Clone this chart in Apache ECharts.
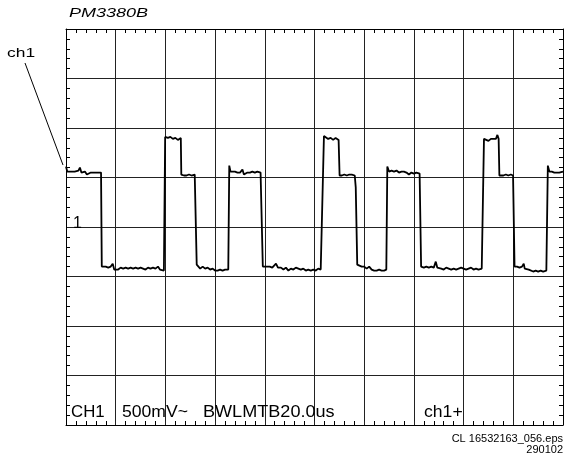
<!DOCTYPE html>
<html>
<head>
<meta charset="utf-8">
<script src="https://cdn.jsdelivr.net/npm/echarts@6/dist/echarts.min.js"></script>
<style>html,body{margin:0;padding:0;background:#fff}#c{width:565px;height:459px}</style>
</head>
<body>
<div id="c"></div>
<script>
// time axis: 20 us/div, 10 divisions; voltage axis: 500 mV/div, 8 divisions
const timeRange = [0, 200];
const timeStep = 20;
const voltRange = [-2, 2];
const voltStep = 0.5;

// trace: [time (us), voltage (V)]
const tracePoints = [
  [0,0.61],[0.5,0.56],[1.2,0.55],[2,0.56],[2.8,0.54],[3.5,0.56],[4.2,0.55],[5,0.57],[5.6,0.60],[6.2,0.55],[7,0.53],[7.6,0.56],[8.4,0.53],[9.2,0.55],[10,0.55],[11,0.55],[12,0.55],[13,0.55],[14.1,0.55],
  [14.4,-0.40],
  [15,-0.41],[16,-0.40],[17,-0.41],[18,-0.40],[18.8,-0.37],[19.4,-0.43],[20.2,-0.42],[21,-0.43],[22,-0.41],[23,-0.42],[24,-0.41],[25,-0.42],[26,-0.41],[27,-0.42],[28,-0.41],[29,-0.42],[30,-0.41],[31,-0.42],[32,-0.43],[33,-0.41],[34,-0.42],[35,-0.41],[36,-0.42],[37,-0.40],[37.8,-0.43],[38.5,-0.42],[39.4,-0.44],
  [39.9,0.91],
  [41,0.90],[42,0.91],[43,0.89],[44,0.90],[45,0.88],[46.2,0.90],
  [46.4,0.53],
  [47.5,0.52],[48.5,0.52],[49.5,0.53],[50.5,0.52],[51.2,0.54],[51.8,0.53],
  [52.6,-0.38],
  [53.2,-0.40],[54,-0.42],[55,-0.40],[56,-0.42],[57,-0.41],[58,-0.43],[59,-0.42],[60,-0.44],[61,-0.44],[62,-0.43],[63,-0.44],[64,-0.43],[65.3,-0.43],
  [65.7,0.62],
  [66.2,0.56],[67,0.55],[68,0.56],[69,0.55],[70,0.55],[71,0.58],[71.6,0.53],[72.4,0.55],[73,0.55],[74,0.55],[75,0.56],[76,0.55],[77,0.56],[78.3,0.55],
  [79.2,-0.40],
  [80,-0.41],[81,-0.40],[82,-0.40],[83,-0.41],[84.5,-0.37],[85.3,-0.41],[86.5,-0.41],[87.5,-0.43],[88.5,-0.41],[89.5,-0.44],[90.5,-0.42],[91.5,-0.43],[92.5,-0.41],[93.5,-0.42],[94.5,-0.43],[95.5,-0.42],[96.5,-0.44],[97.5,-0.43],[98.5,-0.44],[99.5,-0.43],[100.5,-0.44],[101.5,-0.42],[102.5,-0.43],[103.2,-0.42],
  [103.8,0.92],
  [104.5,0.90],[105.5,0.89],[106.5,0.90],[107.5,0.88],[108.5,0.90],[109.7,0.88],
  [110.1,0.52],
  [111,0.52],[112,0.53],[113,0.52],[114,0.53],[115,0.53],[116.2,0.52],
  [116.6,0.40],[117.2,-0.38],
  [118,-0.38],[119,-0.40],[120,-0.40],[121,-0.42],[122,-0.40],[123,-0.43],[124,-0.44],[125,-0.44],[126,-0.43],[127,-0.44],[128,-0.44],[128.9,-0.43],
  [129.3,0.61],
  [130,0.56],[131,0.57],[132,0.56],[133,0.57],[134,0.55],[135,0.56],[136,0.56],[137,0.55],[138,0.53],[139,0.55],[140,0.54],[141,0.55],[142.3,0.54],
  [142.9,-0.40],
  [144,-0.41],[145,-0.40],[146,-0.41],[147,-0.40],[148,-0.41],[148.8,-0.35],[149.4,-0.41],[150.2,-0.43],[151,-0.42],[152,-0.43],[153,-0.41],[154,-0.42],[155,-0.43],[156,-0.42],[157,-0.43],[158,-0.42],[159,-0.41],[160,-0.42],[161,-0.43],[162,-0.42],[163,-0.41],[164,-0.43],[165,-0.42],[166,-0.43],[167.3,-0.42],
  [168.2,0.89],
  [169,0.89],[170,0.87],[171,0.89],[172,0.89],[173,0.89],[173.6,0.93],[174.1,0.89],
  [174.4,0.52],
  [175,0.53],[176,0.52],[177,0.53],[177.5,0.55],[178,0.52],[179,0.53],[179.9,0.52],
  [180.5,-0.40],
  [181.5,-0.40],[182.5,-0.41],[183.5,-0.40],[184.2,-0.37],[184.6,-0.42],[185.4,-0.44],[186.2,-0.43],[187,-0.44],[188,-0.45],[189,-0.44],[190,-0.45],[191,-0.44],[192,-0.45],[193.3,-0.44],
  [193.9,0.62],
  [194.5,0.56],[195.5,0.56],[196.5,0.55],[197.5,0.55],[198.5,0.55],[199.3,0.57],[200,0.56]
];

const titleText = 'PM3380B';
const channelLabel = 'ch1';
const groundMarker = '1';
const statusTexts = ['CH1', '500mV~', 'BWLMTB20.0us', 'ch1+'];
const fileTexts = ['CL 16532163_056.eps', '290102'];

const FONT = '"Liberation Sans", Arial, Helvetica, sans-serif';
const gridColor = '#222';

function axisCommon(position, showSplit, range, step) {
  return {
    type: 'value', position: position, min: range[0], max: range[1], interval: step,
    axisLine: { show: true, onZero: false, lineStyle: { color: '#000', width: 1 } },
    axisTick: { show: false, inside: true, length: 4 },
    minorTick: { show: true, splitNumber: 5, length: 4, lineStyle: { color: '#000', width: 1 } },
    axisLabel: { show: false },
    splitLine: { show: showSplit, lineStyle: { color: gridColor, width: 1 } },
    minorSplitLine: { show: false }
  };
}

function label(text, x, y, size, scaleX, align, extra) {
  return Object.assign({
    type: 'text', x: x, y: y, scaleX: scaleX, z: 10,
    style: { text: text, font: size + 'px ' + FONT, fill: '#000', textAlign: align, textVerticalAlign: 'middle' }
  }, extra || {});
}

const chart = echarts.init(document.getElementById('c'), null, { renderer: 'canvas' });
chart.setOption({
  animation: false,
  backgroundColor: '#fff',
  grid: { left: 66, top: 29, right: 2, bottom: 34, containLabel: false },
  xAxis: [axisCommon('bottom', true, timeRange, timeStep), axisCommon('top', false, timeRange, timeStep)],
  yAxis: [axisCommon('left', true, voltRange, voltStep), axisCommon('right', false, voltRange, voltStep)],
  series: [{
    type: 'line', xAxisIndex: 0, yAxisIndex: 0, data: tracePoints,
    showSymbol: false, symbol: 'none', smooth: false,
    lineStyle: { color: '#000', width: 1.8 }, z: 5
  }],
  graphic: [
    { type: 'text', x: 69, y: 14, scaleX: 1.5, style: { text: titleText, font: 'italic 12px ' + FONT, fill: '#000', textAlign: 'left', textVerticalAlign: 'middle' } },
    label(channelLabel, 7, 54, 12, 1.45, 'left'),
    { type: 'line', shape: { x1: 25, y1: 63, x2: 63, y2: 165 }, style: { stroke: '#000', lineWidth: 1 } },
    label(groundMarker, 73, 223.5, 16, 1, 'left'),
    label(statusTexts[0], 71, 413, 16, 1.05, 'left'),
    label(statusTexts[1], 122, 413, 16, 1.1, 'left'),
    label(statusTexts[2], 203, 413, 16, 1.13, 'left'),
    label(statusTexts[3], 424, 413, 16, 1.1, 'left'),
    label(fileTexts[0], 563, 438.5, 11, 1, 'right'),
    label(fileTexts[1], 563, 449.5, 11, 1, 'right')
  ]
});
</script>
</body>
</html>
